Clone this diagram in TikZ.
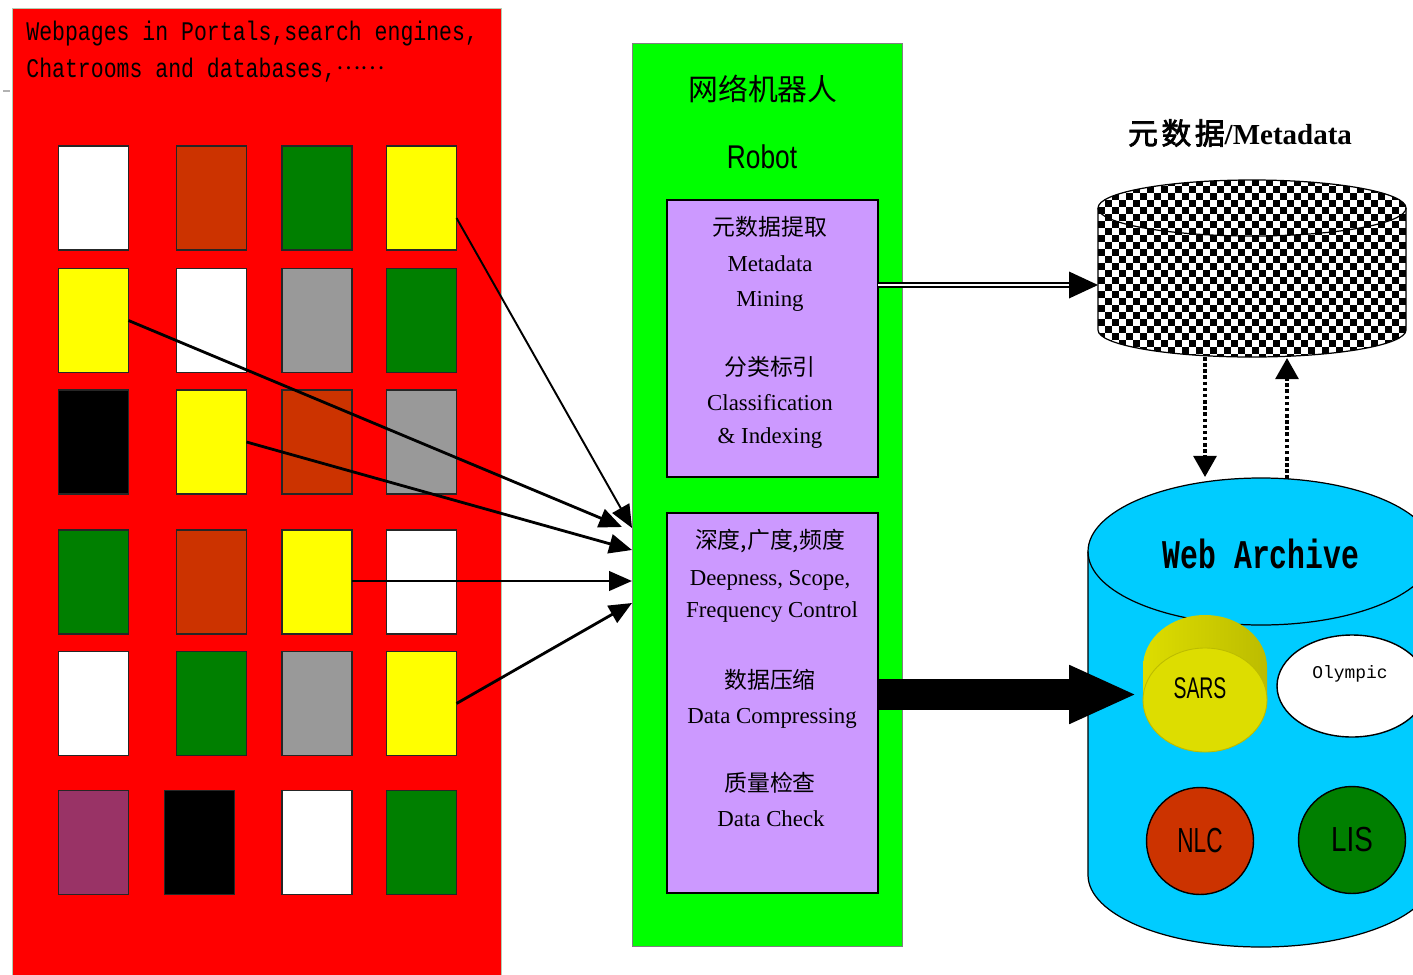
\documentclass[tikz,border=0pt]{standalone}
\usepackage{fontspec}
\usetikzlibrary{arrows.meta,calc}
\setmainfont{Liberation Serif}
\newfontfamily\cjk{Noto Sans CJK SC}
\newfontfamily\cjkb[FakeBold=2.5]{Noto Sans CJK SC}
\newfontfamily\monoA[FakeStretch=0.8]{Liberation Mono}
\newfontfamily\monoB[FakeStretch=0.73]{Liberation Mono}
\newfontfamily\monoC{Liberation Mono}
\newfontfamily\sansN[FakeStretch=0.8]{Liberation Sans}
\newfontfamily\sansNN[FakeStretch=0.65]{Liberation Sans}
\definecolor{cred}{HTML}{FF0000}
\definecolor{brick}{HTML}{CC3300}
\definecolor{dgreen}{HTML}{007F00}
\definecolor{cyel}{HTML}{FFFF00}
\definecolor{cgray}{HTML}{999999}
\definecolor{plum}{HTML}{993366}
\definecolor{lime}{HTML}{00FF00}
\definecolor{lav}{HTML}{CC99FF}
\definecolor{sky}{HTML}{00CCFF}
\definecolor{sars}{HTML}{DDDD00}
\definecolor{sarsd}{HTML}{A5A500}
\begin{document}
\begin{tikzpicture}[x=0.02cm,y=-0.02cm,
  pg/.style={draw=black!85, line width=0.6pt, minimum width=1.4cm, minimum height=2.08cm, inner sep=0, outer sep=0},
  pbox/.style={draw=black, line width=0.8pt, fill=lav, minimum width=4.22cm, inner sep=0, outer sep=0, anchor=north west},
  ptx/.style={inner sep=0, font=\fontsize{13pt}{15pt}\selectfont},
  pcn/.style={inner sep=0, font=\cjk\fontsize{13pt}{15pt}\selectfont},
  arr/.style={-{Triangle[length=13pt,width=11pt]}, line width=1.6pt},
  arrthin/.style={-{Triangle[length=13pt,width=11pt]}, line width=1.1pt},
  dotarr/.style={-{Triangle[length=12pt,width=13pt]}, line width=2pt, dash pattern=on 2pt off 1.5pt},
  disc/.style={circle, draw=black, line width=0.8pt, minimum size=2.14cm, inner sep=0}
]
\useasboundingbox (0,0) rectangle (1413,974);
\clip (0,0) rectangle (1413,974);
\fill[white] (0,0) rectangle (1413,974);

% ---------- left red panel ----------
\node[draw=green!20!gray!50, fill=cred, line width=0.5pt, minimum width=9.78cm, minimum height=19.5cm, inner sep=0, anchor=north west] (web) at (12,8) {};
\draw[gray!60, line width=0.8pt] (3,91) -- (10,91);
\node[anchor=base west, inner sep=0, font=\monoA\fontsize{15.3pt}{18pt}\selectfont] (w1) at (26,40) {Webpages in Portals,search engines,};
\node[anchor=base west, inner sep=0, font=\monoA\fontsize{15.3pt}{18pt}\selectfont] (w2) at (26,77) {Chatrooms and databases,\raisebox{4.5pt}{\cjk\fontsize{13pt}{15pt}\selectfont ……}};

% row 1
\node[pg, fill=white]  (r11) at (93.5,198) {};
\node[pg, fill=brick]  (r12) at (211.5,198) {};
\node[pg, fill=dgreen] (r13) at (317,198) {};
\node[pg, fill=cyel]   (r14) at (421.5,198) {};
% row 2
\node[pg, fill=cyel]   (r21) at (93.5,320.5) {};
\node[pg, fill=white]  (r22) at (211.5,320.5) {};
\node[pg, fill=cgray]  (r23) at (317,320.5) {};
\node[pg, fill=dgreen] (r24) at (421.5,320.5) {};
% row 3
\node[pg, fill=black]  (r31) at (93.5,442) {};
\node[pg, fill=cyel]   (r32) at (211.5,442) {};
\node[pg, fill=brick]  (r33) at (317,442) {};
\node[pg, fill=cgray]  (r34) at (421.5,442) {};
% row 4
\node[pg, fill=dgreen] (r41) at (93.5,582) {};
\node[pg, fill=brick]  (r42) at (211.5,582) {};
\node[pg, fill=cyel]   (r43) at (317,582) {};
\node[pg, fill=white]  (r44) at (421.5,582) {};
% row 5
\node[pg, fill=white]  (r51) at (93.5,703.5) {};
\node[pg, fill=dgreen] (r52) at (211.5,703.5) {};
\node[pg, fill=cgray]  (r53) at (317,703.5) {};
\node[pg, fill=cyel]   (r54) at (421.5,703.5) {};
% row 6
\node[pg, fill=plum]   (r61) at (93.5,842.5) {};
\node[pg, fill=black]  (r62) at (199.5,842.5) {};
\node[pg, fill=white]  (r63) at (317,842.5) {};
\node[pg, fill=dgreen] (r64) at (421.5,842.5) {};

% ---------- robot ----------
\node[draw=gray, line width=0.6pt, fill=lime, minimum width=5.4cm, minimum height=18.06cm, inner sep=0, anchor=north west] (robot) at (632,43) {};
\node[inner sep=0, font=\cjk\fontsize{17pt}{20pt}\selectfont] (rcn) at (763,89) {网络机器人};
\node[anchor=base, inner sep=0, font=\sansN\fontsize{18.7pt}{20pt}\selectfont] (ren) at (762,168) {Robot};

\node[pbox, minimum height=5.54cm] (mm) at (667,200) {};
\node[pbox, minimum height=7.6cm] (dc) at (667,513) {};

\node[pcn] (t1) at (770,227) {元数据提取};
\node[ptx, anchor=base] (t2) at (770,271) {Metadata};
\node[ptx, anchor=base] (t3) at (770,306) {Mining};
\node[pcn] (t4) at (770,367) {分类标引};
\node[ptx, anchor=base] (t5) at (770,410) {Classification};
\node[ptx, anchor=base] (t6) at (770,443) {\& Indexing};

\node[pcn] (t7) at (770,541) {深度,广度,频度};
\node[ptx, anchor=base] (t8) at (770,585) {Deepness, Scope,};
\node[ptx, anchor=base] (t9) at (772,617) {Frequency Control};
\node[pcn] (t10) at (770,680) {数据压缩};
\node[ptx, anchor=base] (t11) at (772,723) {Data Compressing};
\node[pcn] (t12) at (770,783) {质量检查};
\node[ptx, anchor=base] (t13) at (771,826) {Data Check};

% ---------- arrows from pages to robot ----------
\coordinate (s1) at ([yshift=-0.4cm]r14.east);
\coordinate (e1) at (632,528);
\coordinate (e2) at (622,527);
\coordinate (e3) at (632,550);
\coordinate (e4) at (632,581);
\coordinate (e5) at (632,603);
\coordinate (s4) at (352,581);
\draw[arrthin] (s1) -- (e1);
\draw[arr] (r21.east) -- (e2);
\draw[arr] (r32.east) -- (e3);
\draw[arr] (s4) -- (e4);
\draw[arr] (r54.east) -- (e5);

% ---------- metadata cylinder ----------
\node[inner sep=0, font=\cjkb\fontsize{17pt}{20pt}\selectfont] (mtitle) at (1240,133) {元\hspace{2pt}数\hspace{2pt}据\bfseries\rmfamily\fontsize{16.5pt}{20pt}\selectfont/Metadata};
\begin{scope}
  \clip (1098,208) -- (1098,330) arc[start angle=180,end angle=0,x radius=154,y radius=27] -- (1406,208) arc[start angle=0,end angle=-180,x radius=154,y radius=28] -- cycle;
  \fill[white] (1090,170) rectangle (1410,365);
  \foreach \i in {0,...,44}{
    \pgfmathtruncatemacro\off{mod(\i,2)}
    \foreach \j in {0,...,13}{
      \fill[black] ({1098+7*\i},{179+7*(2*\j+\off)}) rectangle ++(7,7);
    }
  }
\end{scope}
\draw[line width=0.7pt] (1098,208) -- (1098,330) arc[start angle=180,end angle=0,x radius=154,y radius=27] -- (1406,208) arc[start angle=0,end angle=-180,x radius=154,y radius=28] -- cycle;
\draw[line width=0.7pt] (1098,208) arc[start angle=180,end angle=0,x radius=154,y radius=28];
\node[inner sep=0, minimum width=6.16cm, minimum height=3.6cm] (meta) at (1252,269) {};

% double arrow to metadata
\coordinate (m1) at (878,285);
\coordinate (m2) at (1098,285);
\draw[double=white, double distance=1.7pt, line width=0.6pt, shorten >=26*0.02cm] (m1) -- (m2);
\fill (m2) -- ++(-29,-13.5) -- ++(0,27) -- cycle;

% ---------- web archive cylinder ----------
\path[fill=sky, draw=black, line width=0.7pt] (1088,551.5) -- (1088,875) arc[start angle=180,end angle=0,x radius=173,y radius=72] -- (1434,551.5) arc[start angle=0,end angle=-180,x radius=173,y radius=73.5] -- cycle;
\draw[line width=0.7pt] (1088,551.5) arc[start angle=180,end angle=0,x radius=173,y radius=73.5];
\node[anchor=base, inner sep=0, font=\monoB\bfseries\fontsize{23.2pt}{26pt}\selectfont] (wa) at (1261,568) {Web Archive};

% dotted arrows
\coordinate (d1s) at (1205,357);
\coordinate (d1e) at (1205,477);
\coordinate (d2s) at (1287,479);
\coordinate (d2e) at (1287,358);
\draw[dotarr] (d1s) -- (d1e);
\draw[dotarr] (d2s) -- (d2e);

% SARS disc
\shade[left color=sars, middle color=sarsd, right color=sars!85!black]
  (1143,667) arc[start angle=180,end angle=360,x radius=62,y radius=52] -- (1267,700) arc[start angle=0,end angle=180,x radius=62,y radius=52] -- cycle;
\fill[sars, draw=sars!85!black, line width=0.5pt] (1205,700) ellipse [x radius=62, y radius=52];
\node[inner sep=0, font=\sansNN\fontsize{17pt}{20pt}\selectfont] (sars) at (1200,688) {SARS};

% Olympic
\fill[white, draw=black, line width=0.8pt] (1352,686) ellipse [x radius=75, y radius=51];
\node[anchor=base, inner sep=0, font=\monoC\fontsize{10.2pt}{12pt}\selectfont] (oly) at (1350,678) {Olympic};

% NLC, LIS
\node[disc, fill=brick, font=\sansNN\fontsize{19.8pt}{22pt}\selectfont] (nlc) at (1200,841) {NLC};
\node[disc, fill=dgreen, font=\sansN\fontsize{19.8pt}{22pt}\selectfont] (lis) at (1352,840) {LIS};

% thick arrow to archive
\coordinate (k1) at (878,694.5);
\coordinate (k2) at (1137,694.5);
\draw[line width=17.6pt, -{Triangle[length=38.6pt,width=30.6pt]}] (k1) -- (k2);
\end{tikzpicture}
\end{document}
